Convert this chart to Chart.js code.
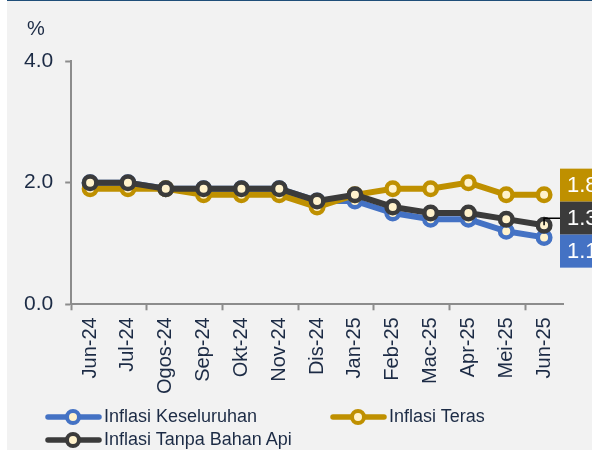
<!DOCTYPE html>
<html>
<head>
<meta charset="utf-8">
<script src="https://cdn.jsdelivr.net/npm/chart.js@4.4.1/dist/chart.umd.min.js"></script>
<style>
  html, body { margin: 0; padding: 0; background: #ffffff; }
  #wrap { position: relative; width: 592px; height: 450px; overflow: hidden; }
  #bg { position: absolute; left: 7px; top: 0; right: 0; bottom: 0; background: #f2f2f2; border-top: 1px solid #1f4e79; }
  #chart { position: absolute; left: 0; top: 0; }
  .legend { position: absolute; font-family: "Liberation Sans", Arial, sans-serif; font-size: 18px; color: #1c2b45; display: flex; align-items: center; white-space: nowrap; }
  .legend svg { display: block; margin-right: 2px; }
</style>
</head>
<body>
<div id="wrap">
  <div id="bg"></div>
  <canvas id="chart" width="592" height="450"></canvas>
  <div id="legend"></div>
</div>
<script>
const months = ["Jun-24", "Jul-24", "Ogos-24", "Sep-24", "Okt-24", "Nov-24", "Dis-24",
                "Jan-25", "Feb-25", "Mac-25", "Apr-25", "Mei-25", "Jun-25"];
const keseluruhan = [2.0, 2.0, 1.9, 1.9, 1.9, 1.9, 1.7, 1.7, 1.5, 1.4, 1.4, 1.2, 1.1];
const teras       = [1.9, 1.9, 1.9, 1.8, 1.8, 1.8, 1.6, 1.8, 1.9, 1.9, 2.0, 1.8, 1.8];
const tanpaApi    = [2.0, 2.0, 1.9, 1.9, 1.9, 1.9, 1.7, 1.8, 1.6, 1.5, 1.5, 1.4, 1.3];
const yTicks = [0, 2, 4];
// only this series' end label gets a leader line in the original
const leaderFor = ["Inflasi Tanpa Bahan Api"];

const BLUE = "#4472c4", GOLD = "#bf9000", DARK = "#3b3b3b", CREAM = "#fff2cc";
const TEXT = "#1c2b45", AXIS = "#8c8c8c";
const FONT = "Liberation Sans, Arial, sans-serif";

function series(label, data, color, order) {
  return {
    label, data, order,
    borderColor: color,
    borderWidth: 6,
    pointRadius: 6.25,
    pointBorderWidth: 4.5,
    pointBackgroundColor: CREAM,
    pointBorderColor: color,
    tension: 0
  };
}

// end-of-line value boxes on the right
const endBoxes = {
  id: "endBoxes",
  afterDraw(chart) {
    const ctx = chart.ctx;
    const ys = chart.scales.y;
    const last = months.length - 1;
    const items = chart.data.datasets.map((d, i) => ({
      label: d.label, v: d.data[last], color: d.borderColor,
      py: ys.getPixelForValue(d.data[last]),
      px: chart.getDatasetMeta(i).data[last].x
    })).sort((a, b) => b.v - a.v);
    const h = 33;
    const mid = items.reduce((s, it) => s + it.py, 0) / items.length;
    let top = mid - h * items.length / 2 - 1;
    const bx = chart.chartArea.right - 3;
    ctx.save();
    items.forEach((it, k) => {
      const y0 = top + k * h;
      const cy = y0 + h / 2;
      if (leaderFor.includes(it.label)) {
        ctx.strokeStyle = "#000000";
        ctx.lineWidth = 1.5;
        ctx.beginPath();
        ctx.moveTo(it.px, it.py);
        ctx.lineTo(it.px, cy);
        ctx.lineTo(bx, cy);
        ctx.stroke();
      }
      ctx.fillStyle = it.color;
      ctx.fillRect(bx, y0, 60, h);
      ctx.fillStyle = "#ffffff";
      ctx.font = "22px " + FONT;
      ctx.textBaseline = "middle";
      ctx.textAlign = "left";
      ctx.fillText(it.v.toFixed(1), bx + 7, cy + 1);
    });
    ctx.fillStyle = TEXT;
    ctx.font = "20px " + FONT;
    ctx.textAlign = "left";
    ctx.textBaseline = "alphabetic";
    ctx.fillText("%", 27, 35);
    ctx.restore();
  }
};

new Chart(document.getElementById("chart"), {
  type: "line",
  data: {
    labels: months,
    datasets: [
      series("Inflasi Keseluruhan", keseluruhan, BLUE, 3),
      series("Inflasi Teras", teras, GOLD, 2),
      series("Inflasi Tanpa Bahan Api", tanpaApi, DARK, 1)
    ]
  },
  options: {
    responsive: false,
    animation: false,
    layout: { padding: { top: 61, right: 29, bottom: 49, left: 12 } },
    plugins: { legend: { display: false }, tooltip: { enabled: false } },
    scales: {
      x: {
        offset: true,
        grid: {
          offset: true,
          drawOnChartArea: false,
          tickLength: 6,
          tickWidth: 2,
          tickColor: c => (c.index % 2 === 0 ? AXIS : "rgba(0,0,0,0)")
        },
        border: { color: AXIS, width: 2 },
        ticks: {
          minRotation: 90, maxRotation: 90, padding: 7,
          color: TEXT, font: { family: FONT, size: 20 }
        }
      },
      y: {
        min: 0, max: 4,
        afterBuildTicks: s => { s.ticks = yTicks.map(v => ({ value: v })); },
        grid: { drawOnChartArea: false, tickLength: 6, tickWidth: 2, color: AXIS },
        border: { color: AXIS, width: 2 },
        ticks: {
          padding: 12, color: TEXT, font: { family: FONT, size: 21 },
          callback: v => v.toFixed(1)
        }
      }
    }
  },
  plugins: [endBoxes]
});

// legend laid out in two columns like the original
const legendItems = [
  { label: "Inflasi Keseluruhan", color: BLUE, x: 45, y: 406 },
  { label: "Inflasi Teras", color: GOLD, x: 330, y: 406 },
  { label: "Inflasi Tanpa Bahan Api", color: DARK, x: 45, y: 429 }
];
const leg = document.getElementById("legend");
legendItems.forEach(it => {
  const d = document.createElement("div");
  d.className = "legend";
  d.style.left = it.x + "px";
  d.style.top = it.y + "px";
  d.innerHTML = `<svg width="57" height="20"><line x1="3" y1="10" x2="54" y2="10" stroke="${it.color}" stroke-width="5.5" stroke-linecap="round"/><circle cx="28" cy="10" r="6" fill="${CREAM}" stroke="${it.color}" stroke-width="4"/></svg><span>${it.label}</span>`;
  leg.appendChild(d);
});
</script>
</body>
</html>
